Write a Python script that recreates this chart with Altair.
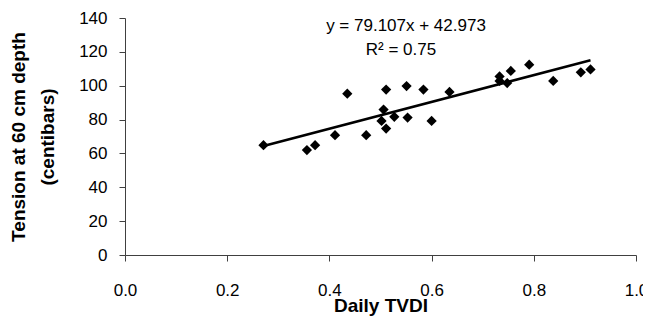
import altair as alt
import pandas as pd

# Scatter data
tvdi = [0.271, 0.356, 0.372, 0.411, 0.435, 0.472, 0.511, 0.506, 0.502, 0.527,
        0.511, 0.551, 0.553, 0.584, 0.600, 0.635, 0.733, 0.733, 0.755, 0.748,
        0.791, 0.838, 0.892, 0.911]
tension = [64.9, 62.0, 64.9, 70.8, 95.3, 70.8, 97.7, 85.9, 79.2, 81.6,
           74.7, 99.8, 81.2, 97.7, 79.2, 96.3, 105.5, 102.8, 108.7, 101.6,
           112.4, 102.8, 107.9, 109.6]

SLOPE = 79.107
INTERCEPT = 42.973
eq_text = "y = 79.107x + 42.973"
r2_text = "R² = 0.75"

x_ticks = [0.0, 0.2, 0.4, 0.6, 0.8, 1.0]
y_ticks = [0, 20, 40, 60, 80, 100, 120, 140]

pts = pd.DataFrame({"x": tvdi, "y": tension})
xmin, xmax = min(tvdi), max(tvdi)
fit = pd.DataFrame({"x": [xmin, xmax],
                    "y": [SLOPE * xmin + INTERCEPT, SLOPE * xmax + INTERCEPT]})

FONT = "Liberation Sans"

xscale = alt.Scale(domain=[0, 1], nice=False, zero=False)
yscale = alt.Scale(domain=[0, 140], nice=False)

xaxis = alt.Axis(title="Daily TVDI", values=x_ticks, format=".1f",
                 labelPadding=21, titleY=50, titleX=255.5,
                 titleBaseline="middle", titleAlign="center", orient="bottom")
yaxis = alt.Axis(title=["Tension at 60 cm depth", "(centibars)"], values=y_ticks,
                 format="d", labelPadding=12, titleLineHeight=29, titleX=-107,
                 titleY=118.5, titleBaseline="middle", titleAlign="center",
                 titleAngle=270, orient="left")

points = alt.Chart(pts).mark_point(shape="diamond", filled=True, color="black",
                                   size=105, opacity=1).encode(
    x=alt.X("x:Q", scale=xscale, axis=xaxis),
    y=alt.Y("y:Q", scale=yscale, axis=yaxis),
)

line = alt.Chart(fit).mark_line(color="black", strokeWidth=2.5).encode(
    x=alt.X("x:Q", scale=xscale, axis=xaxis),
    y=alt.Y("y:Q", scale=yscale, axis=yaxis),
)

eq = alt.Chart(pd.DataFrame({"t": [eq_text]})).mark_text(
    font=FONT, fontSize=17, color="black", baseline="middle", align="center"
).encode(text="t:N", x=alt.value(281), y=alt.value(8))

r2 = alt.Chart(pd.DataFrame({"t": [r2_text]})).mark_text(
    font=FONT, fontSize=17, color="black", baseline="middle", align="center"
).encode(text="t:N", x=alt.value(276), y=alt.value(32))

chart = alt.layer(points, line, eq, r2).properties(
    width=511, height=237,
    autosize=alt.AutoSizeParams(type="none"),
    padding={"left": 117, "top": 10, "right": 7, "bottom": 64},
).configure(
    background="white",
    view=alt.ViewConfig(stroke=None, strokeWidth=0),
    axis=alt.AxisConfig(grid=False, tickSize=6, labelFontSize=17, labelFont=FONT,
                        labelColor="black", titleFont=FONT, titleFontSize=19,
                        titleFontWeight="bold", titleColor="black",
                        domainColor="#404040", tickColor="#404040",
                        labelFlush=False, labelOverlap=False, labelBound=False),
)

chart.save("out.html", embed_options={"renderer": "svg", "actions": False})
